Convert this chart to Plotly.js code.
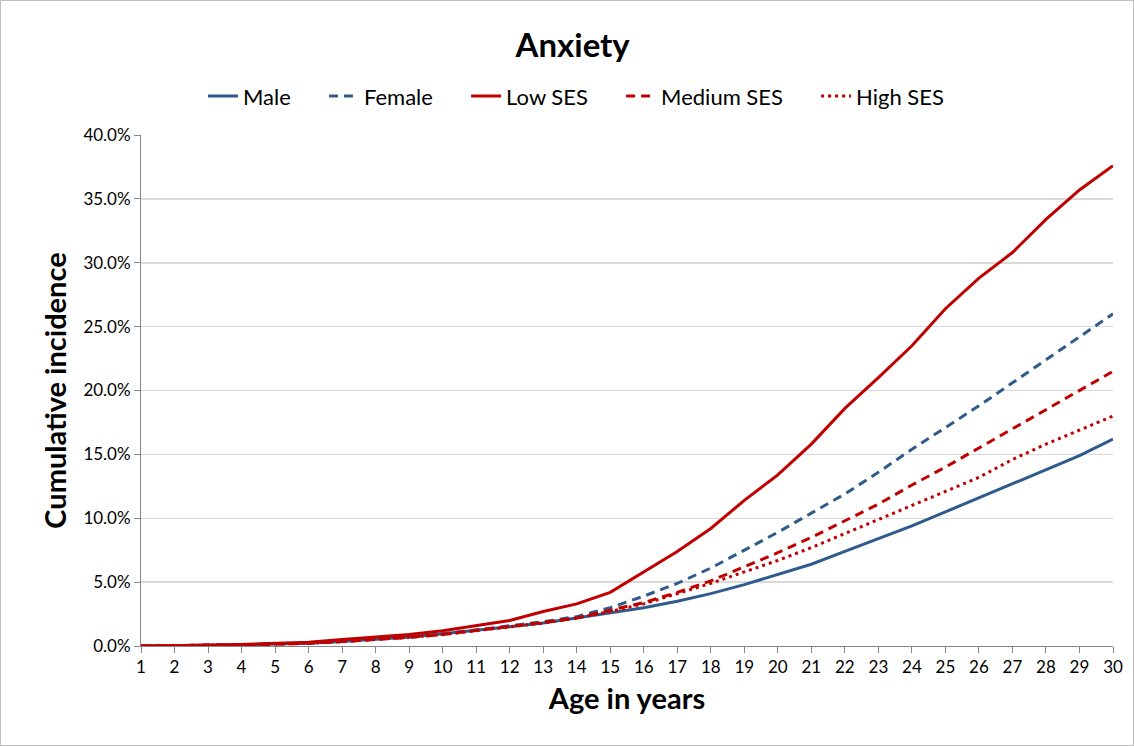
<!DOCTYPE html>
<html>
<head>
<meta charset="utf-8">
<script src="https://cdn.plot.ly/plotly-3.0.1.min.js"></script>
<style>
  html, body { margin: 0; padding: 0; background: #fff; }
  #chart { width: 1134px; height: 746px; box-sizing: border-box; border: 1px solid #bfbfbf; }
</style>
</head>
<body>
<div id="chart"></div>
<script>
const ages = [1,2,3,4,5,6,7,8,9,10,11,12,13,14,15,16,17,18,19,20,21,22,23,24,25,26,27,28,29,30];

const male      = [0,0.02,0.05,0.10,0.15,0.22,0.35,0.50,0.70,0.95,1.20,1.50,1.80,2.20,2.60,3.00,3.50,4.10,4.80,5.60,6.40,7.40,8.40,9.40,10.50,11.60,12.70,13.80,14.90,16.20];
const female    = [0,0.02,0.05,0.10,0.15,0.22,0.35,0.50,0.70,0.95,1.25,1.60,1.90,2.30,3.00,3.90,4.90,6.10,7.50,8.90,10.40,11.90,13.60,15.40,17.10,18.80,20.60,22.40,24.20,26.00];
const lowSES    = [0,0.02,0.06,0.12,0.20,0.30,0.50,0.70,0.90,1.20,1.60,2.00,2.70,3.30,4.20,5.80,7.40,9.20,11.40,13.40,15.80,18.60,21.00,23.50,26.40,28.80,30.80,33.40,35.70,37.60];
const mediumSES = [0,0.02,0.05,0.10,0.15,0.22,0.35,0.50,0.68,0.90,1.20,1.50,1.85,2.20,2.80,3.40,4.20,5.10,6.20,7.30,8.50,9.80,11.10,12.60,14.00,15.50,17.00,18.50,20.00,21.50];
const highSES   = [0,0.02,0.05,0.10,0.15,0.22,0.35,0.50,0.68,0.90,1.20,1.50,1.80,2.20,2.70,3.30,4.10,4.90,5.80,6.70,7.70,8.80,9.90,11.00,12.10,13.20,14.60,15.80,16.90,18.00];

const seriesNames = ["Male", "Female", "Low SES", "Medium SES", "High SES"];
const tickVals = [0, 0.05, 0.10, 0.15, 0.20, 0.25, 0.30, 0.35, 0.40];

const BLUE = "#2e5a8c";
const RED = "#c00000";
const FONT = "Lato, 'Open Sans', sans-serif";
const pct = a => a.map(v => v / 100);
const GAP = "\u00a0\u00a0\u00a0\u00a0\u00a0";

const traces = [
  {x: ages, y: pct(male), name: seriesNames[0] + GAP, line: {color: BLUE, width: 3, dash: "solid"}},
  {x: ages, y: pct(female), name: seriesNames[1] + GAP, line: {color: BLUE, width: 3, dash: "9px,6px"}},
  {x: ages, y: pct(lowSES), name: seriesNames[2] + GAP, line: {color: RED, width: 3, dash: "solid"}},
  {x: ages, y: pct(mediumSES), name: seriesNames[3] + GAP, line: {color: RED, width: 3, dash: "9px,6px"}},
  {x: ages, y: pct(highSES), name: seriesNames[4], line: {color: RED, width: 3, dash: "3px,4px"}}
].map(t => Object.assign({type: "scatter", mode: "lines"}, t));

const layout = {
  width: 1132, height: 744,
  margin: {l: 140, r: 20, t: 134, b: 99, pad: 0},
  paper_bgcolor: "#ffffff",
  plot_bgcolor: "#ffffff",
  font: {family: FONT, size: 17, color: "#000"},
  title: {text: "<b>Anxiety</b>", font: {family: FONT, size: 33, color: "#000"}, x: 0.505, xanchor: "center", y: 0.94, yanchor: "middle"},
  showlegend: true,
  legend: {orientation: "h", x: 0.4475, xanchor: "center", y: 1.076, yanchor: "middle",
           font: {family: FONT, size: 22, color: "#000"}, traceorder: "normal", itemwidth: 30, bgcolor: "rgba(0,0,0,0)"},
  xaxis: {
    range: [1, 30], tickmode: "array", tickvals: ages, ticktext: ages.map(String),
    showgrid: false, zeroline: false, showline: true, linecolor: "#868686", linewidth: 1,
    ticks: "outside", ticklen: 6, tickcolor: "#868686",
    tickfont: {family: FONT, size: 17, color: "#000"},
    title: {text: "<b>Age in years</b>", font: {family: FONT, size: 29, color: "#000"}, standoff: 12}
  },
  yaxis: {
    range: [0, 0.4], tickmode: "array", tickvals: tickVals, tickformat: ".1%",
    showgrid: true, gridcolor: "#d9d9d9", gridwidth: 1.5, zeroline: false,
    showline: true, linecolor: "#868686", linewidth: 1,
    ticks: "outside", ticklen: 6, tickcolor: "#868686",
    tickfont: {family: FONT, size: 17, color: "#000"},
    title: {text: "<b>Cumulative incidence</b>", font: {family: FONT, size: 29, color: "#000"}, standoff: 8}
  }
};

Plotly.newPlot("chart", traces, layout, {displayModeBar: false, staticPlot: true});
</script>
</body>
</html>
